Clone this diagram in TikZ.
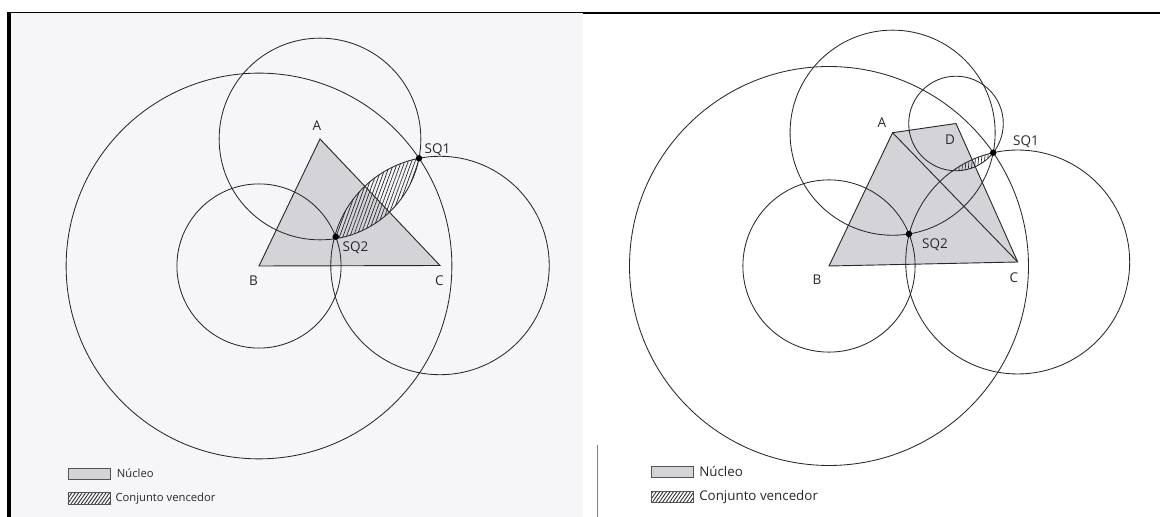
\documentclass[tikz,border=0pt]{standalone}
\usepackage{fontspec}
\setmainfont{Open Sans}
\usetikzlibrary{positioning, through, calc, patterns.meta}
\definecolor{inkgray}{RGB}{40, 40, 44}
\definecolor{coregray}{RGB}{212, 212, 216}
\definecolor{pagegray}{RGB}{246, 246, 248}

\begin{document}
\begin{tikzpicture}[
      x=0.025cm, y=-0.025cm,
      font=\fontsize{8}{9}\selectfont,
      ring/.style={draw=inkgray, line width=0.6pt, inner sep=0pt},
      core/.style={fill=coregray, draw=inkgray, line width=0.65pt},
      sqdot/.style={circle, fill=black, inner sep=0pt, minimum size=4.6pt},
      lbl/.style={text=inkgray, inner sep=0pt},
      ptlbl/.style={lbl, font=\fontsize{9.6}{11}\selectfont},
      winL/.style={pattern={Lines[angle=70, distance=2.3pt, line width=0.5pt]}, pattern color=inkgray},
      winR/.style={pattern={Lines[angle=85, distance=2.2pt, line width=0.5pt]}, pattern color=inkgray},
      keybox/.style={draw=inkgray!80, line width=0.4pt, minimum width=1.05cm, minimum height=0.28cm, inner sep=0pt},
      keyhatch/.style={keybox, pattern={Lines[angle=55, distance=2pt, line width=0.6pt]}, pattern color=inkgray},
      keytext/.style={lbl, anchor=west}
  ]
  \useasboundingbox (0,0) rectangle (1160,517);
  \fill[white] (0,0) rectangle (1160,517);
  \fill[pagegray] (11,13) rectangle (583,517);

  % page frame of the scan
  \draw[black, line width=0.6pt] (7,12.7) -- (583,12.7);
  \draw[black, line width=1.7pt] (583,13) -- (1160,13);
  \draw[black, line width=2.6pt] (9,12) -- (9,517);
  \draw[gray, line width=0.6pt] (597,445) -- (597,517);

  % ---------- left: three voters ----------
  \coordinate (AL)   at (320,139);
  \coordinate (BL)   at (259,266);
  \coordinate (CL)   at (440,265.5);
  \coordinate (sq1L) at (419,158.3);
  \coordinate (sq2L) at (335.7,236.7);

  \draw[core] (AL) -- (CL) -- (BL) -- cycle;

  \begin{scope}
    \clip let \p1=($(sq1L)-(AL)$), \n1={veclen(\x1,\y1)} in (AL) circle (\n1);
    \fill[winL] let \p1=($(sq1L)-(CL)$), \n1={veclen(\x1,\y1)} in (CL) circle (\n1);
  \end{scope}

  \node[ring, circle through=(sq1L)] (bigBL) at (BL) {};
  \node[ring, circle through=(sq2L)] (smallBL) at (BL) {};
  \node[ring, circle through=(sq1L)] (ringAL) at (AL) {};
  \node[ring, circle through=(sq1L)] (ringCL) at (CL) {};

  \node[sqdot] (dot1L) at (sq1L) {};
  \node[sqdot] (dot2L) at (sq2L) {};

  \node[ptlbl] (labAL) at (317,125.5) {A};
  \node[ptlbl] (labBL) at (253.5,281) {B};
  \node[ptlbl] (labCL) at (439.5,281) {C};
  \node[ptlbl] (labSq1L) at (437.5,149.5) {SQ1};
  \node[ptlbl] (labSq2L) at (355.5,248) {SQ2};

  \node[keybox, fill=coregray] (keyCoreL) at (89,473.5) {};
  \node[keyhatch, below=0.32cm of keyCoreL.south, anchor=north] (keyWinL) {};
  \node[keytext, right=0.16cm of keyCoreL] (txtCoreL) {Núcleo};
  \node[keytext, right=0.12cm of keyWinL] (txtWinL) {Conjunto vencedor};

  % ---------- right: four voters ----------
  \coordinate (AR)   at (892.6,132.7);
  \coordinate (BR)   at (829,266);
  \coordinate (CR)   at (1017.7,262);
  \coordinate (DR)   at (956,123.5);
  \coordinate (sq1R) at (993.2,152.7);
  \coordinate (sq2R) at (909,234);

  \draw[core] (AR) -- (DR) -- (CR) -- (BR) -- cycle;
  \draw[inkgray, line width=0.65pt] (AR) -- (CR);

  \begin{scope}
    \clip let \p1=($(sq1R)-(AR)$), \n1={veclen(\x1,\y1)} in (AR) circle (\n1);
    \clip let \p1=($(sq1R)-(DR)$), \n1={veclen(\x1,\y1)} in (DR) circle (\n1);
    \fill[winR] let \p1=($(sq1R)-(CR)$), \n1={veclen(\x1,\y1)} in (CR) circle (\n1);
  \end{scope}

  \node[ring, circle through=(sq1R)] (bigBR) at (BR) {};
  \node[ring, circle through=(sq2R)] (smallBR) at (BR) {};
  \node[ring, circle through=(sq1R)] (ringAR) at (AR) {};
  \node[ring, circle through=(sq1R)] (ringCR) at (CR) {};
  \node[ring, circle through=(sq1R)] (ringDR) at (DR) {};

  \node[sqdot] (dot1R) at (sq1R) {};
  \node[sqdot] (dot2R) at (sq2R) {};

  \node[ptlbl] (labAR) at (882,123) {A};
  \node[ptlbl] (labBR) at (817,280) {B};
  \node[ptlbl] (labCR) at (1014,278) {C};
  \node[ptlbl] (labDR) at (950,140) {D};
  \node[ptlbl] (labSq1R) at (1026,142) {SQ1};
  \node[ptlbl] (labSq2R) at (935,245) {SQ2};

  \node[keybox, fill=coregray] (keyCoreR) at (672.5,471.5) {};
  \node[keyhatch, below=0.34cm of keyCoreR.south, anchor=north] (keyWinR) {};
  \node[keytext, right=0.13cm of keyCoreR, font=\fontsize{9.5}{11}\selectfont] (txtCoreR) {Núcleo};
  \node[keytext, right=0.13cm of keyWinR, font=\fontsize{9.5}{11}\selectfont] (txtWinR) {Conjunto vencedor};
\end{tikzpicture}
\end{document}
